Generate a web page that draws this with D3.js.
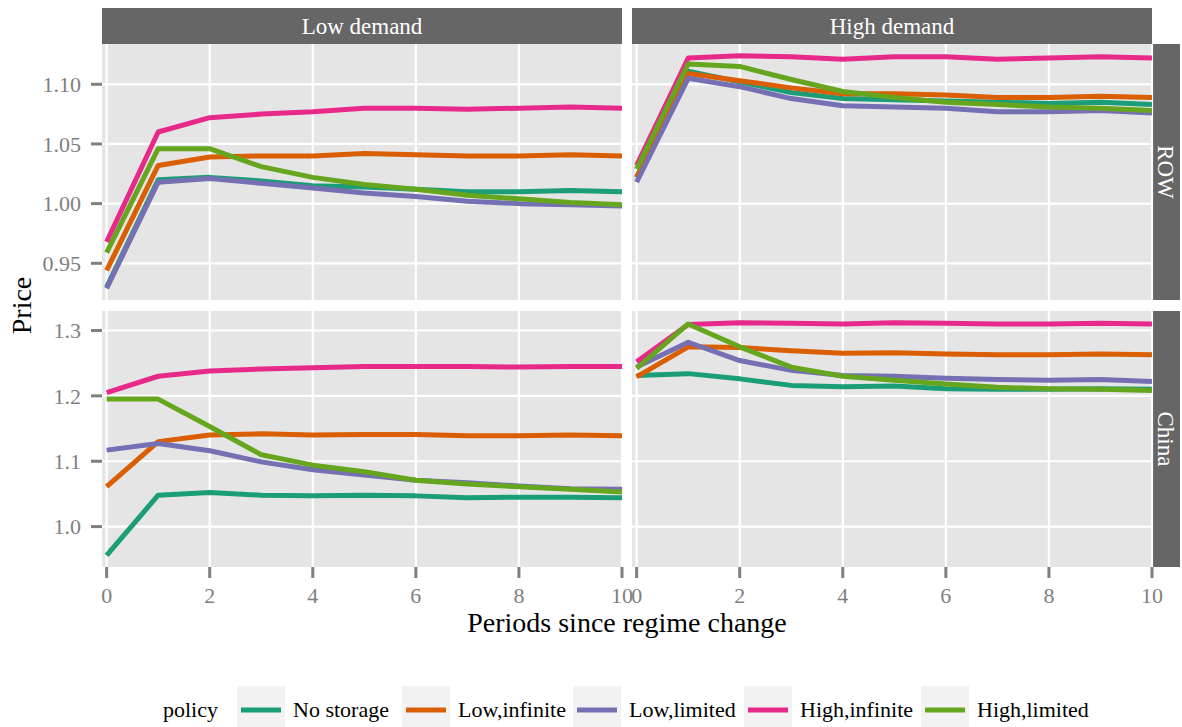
<!DOCTYPE html>
<html>
<head>
<meta charset="utf-8">
<title>Price by policy</title>
<script src="https://cdn.jsdelivr.net/npm/d3@7"></script>
<style>
  body { margin: 0; background: #fff; }
  svg { font-family: "Liberation Serif", "DejaVu Serif", serif; }
  .tick-label { fill: #7f7f7f; font-size: 22px; }
  .strip-text { fill: #fff; font-size: 23px; }
  .axis-title { fill: #000; font-size: 28px; }
  .legend-text { fill: #000; font-size: 22px; }
</style>
</head>
<body>
<script>
// data
var periods = [0, 1, 2, 3, 4, 5, 6, 7, 8, 9, 10];
var policies = ["No storage", "Low,infinite", "Low,limited", "High,infinite", "High,limited"];
var policyColors = ["#1b9e77", "#d95f02", "#7570b3", "#e7298a", "#66a61e"];
var demands = ["Low demand", "High demand"];
var regions = ["ROW", "China"];

// one array per policy, same order as policies
var rowLow = [
  [0.930, 1.020, 1.022, 1.019, 1.015, 1.014, 1.012, 1.010, 1.010, 1.011, 1.010],
  [0.944, 1.032, 1.039, 1.040, 1.040, 1.042, 1.041, 1.040, 1.040, 1.041, 1.040],
  [0.929, 1.018, 1.021, 1.017, 1.013, 1.009, 1.006, 1.002, 1.000, 0.999, 0.998],
  [0.968, 1.060, 1.072, 1.075, 1.077, 1.080, 1.080, 1.079, 1.080, 1.081, 1.080],
  [0.959, 1.046, 1.046, 1.031, 1.022, 1.016, 1.012, 1.007, 1.004, 1.001, 0.999]
];
var rowHigh = [
  [1.022, 1.111, 1.102, 1.093, 1.088, 1.087, 1.086, 1.085, 1.084, 1.085, 1.083],
  [1.022, 1.109, 1.103, 1.097, 1.092, 1.092, 1.091, 1.089, 1.089, 1.090, 1.089],
  [1.018, 1.105, 1.098, 1.088, 1.082, 1.081, 1.080, 1.077, 1.077, 1.078, 1.076],
  [1.032, 1.122, 1.124, 1.123, 1.121, 1.123, 1.123, 1.121, 1.122, 1.123, 1.122],
  [1.029, 1.117, 1.115, 1.104, 1.094, 1.089, 1.085, 1.083, 1.081, 1.080, 1.078]
];
var chinaLow = [
  [0.956, 1.048, 1.052, 1.048, 1.047, 1.048, 1.047, 1.044, 1.045, 1.045, 1.044],
  [1.061, 1.130, 1.140, 1.142, 1.140, 1.141, 1.141, 1.139, 1.139, 1.140, 1.139],
  [1.117, 1.127, 1.116, 1.099, 1.087, 1.079, 1.071, 1.067, 1.062, 1.058, 1.057],
  [1.205, 1.230, 1.238, 1.241, 1.243, 1.245, 1.245, 1.245, 1.244, 1.245, 1.245],
  [1.195, 1.195, 1.153, 1.110, 1.094, 1.084, 1.071, 1.065, 1.061, 1.057, 1.053]
];
var chinaHigh = [
  [1.231, 1.234, 1.226, 1.216, 1.214, 1.215, 1.211, 1.210, 1.210, 1.211, 1.210],
  [1.229, 1.275, 1.274, 1.269, 1.265, 1.266, 1.264, 1.263, 1.263, 1.264, 1.263],
  [1.244, 1.282, 1.254, 1.239, 1.231, 1.230, 1.227, 1.225, 1.224, 1.225, 1.222],
  [1.252, 1.309, 1.312, 1.311, 1.310, 1.312, 1.311, 1.310, 1.310, 1.311, 1.310],
  [1.242, 1.310, 1.275, 1.244, 1.230, 1.224, 1.218, 1.213, 1.211, 1.210, 1.208]
];
var panelData = [[rowLow, rowHigh], [chinaLow, chinaHigh]];

var xTicks = [0, 2, 4, 6, 8, 10];
var yTicks = [[0.95, 1.00, 1.05, 1.10], [1.0, 1.1, 1.2, 1.3]];
var yFormats = [d3.format(".2f"), d3.format(".1f")];

// layout
var W = 1182, H = 727;
var colX = [[102, 622], [632, 1152]];
var rowY = [[44, 300], [311, 567]];
var stripTop = 8, stripRight = 1180;
var stripFill = "#666666";
var lineW = 5;

var svg = d3.select("body").append("svg")
    .attr("width", W)
    .attr("height", H);

// y scales are free per row, 5% expansion like ggplot
var yScales = panelData.map(function(row, r) {
  var all = d3.merge(row.map(function(p) { return d3.merge(p); }));
  var ext = d3.extent(all);
  var pad = (ext[1] - ext[0]) * 0.05;
  return d3.scaleLinear().domain([ext[0] - pad, ext[1] + pad]).range([rowY[r][1], rowY[r][0]]);
});
var xScales = colX.map(function(c) {
  return d3.scaleLinear().domain([-0.09, 10]).range(c);
});

// top strips
demands.forEach(function(d, c) {
  svg.append("rect")
      .attr("x", colX[c][0]).attr("y", stripTop)
      .attr("width", colX[c][1] - colX[c][0]).attr("height", rowY[0][0] - stripTop)
      .attr("fill", stripFill);
  svg.append("text")
      .attr("class", "strip-text")
      .attr("x", (colX[c][0] + colX[c][1]) / 2)
      .attr("y", (stripTop + rowY[0][0]) / 2)
      .attr("dy", "0.35em")
      .attr("text-anchor", "middle")
      .text(d);
});

// right strips
regions.forEach(function(reg, r) {
  svg.append("rect")
      .attr("x", colX[1][1]).attr("y", rowY[r][0])
      .attr("width", stripRight - colX[1][1]).attr("height", rowY[r][1] - rowY[r][0])
      .attr("fill", stripFill);
  var cx = (colX[1][1] + stripRight) / 2, cy = (rowY[r][0] + rowY[r][1]) / 2;
  svg.append("text")
      .attr("class", "strip-text")
      .attr("transform", "translate(" + cx + "," + cy + ") rotate(90)")
      .attr("dy", "0.35em")
      .attr("text-anchor", "middle")
      .text(reg);
});

var line = d3.line();

panelData.forEach(function(row, r) {
  var y = yScales[r];
  row.forEach(function(series, c) {
    var x = xScales[c];
    var g = svg.append("g");

    g.append("rect")
        .attr("x", colX[c][0]).attr("y", rowY[r][0])
        .attr("width", colX[c][1] - colX[c][0]).attr("height", rowY[r][1] - rowY[r][0])
        .attr("fill", "#e5e5e5");

    // grid
    g.selectAll(".hgrid").data(yTicks[r]).enter().append("line")
        .attr("x1", colX[c][0]).attr("x2", colX[c][1])
        .attr("y1", function(d) { return y(d); }).attr("y2", function(d) { return y(d); })
        .attr("stroke", "#fff").attr("stroke-width", 2.2);
    g.selectAll(".vgrid").data(xTicks).enter().append("line")
        .attr("y1", rowY[r][0]).attr("y2", rowY[r][1])
        .attr("x1", function(d) { return x(d); }).attr("x2", function(d) { return x(d); })
        .attr("stroke", "#fff").attr("stroke-width", 2.2);

    // lines
    series.forEach(function(vals, i) {
      g.append("path")
          .attr("d", line(vals.map(function(v, k) { return [x(periods[k]), y(v)]; })))
          .attr("fill", "none")
          .attr("stroke", policyColors[i])
          .attr("stroke-width", lineW)
          .attr("stroke-linejoin", "round");
    });

    // y axis on the left column
    if (c === 0) {
      var ya = svg.append("g");
      yTicks[r].forEach(function(t) {
        ya.append("line")
            .attr("x1", colX[0][0] - 11).attr("x2", colX[0][0])
            .attr("y1", y(t)).attr("y2", y(t))
            .attr("stroke", "#7f7f7f").attr("stroke-width", 3);
        ya.append("text")
            .attr("class", "tick-label")
            .attr("x", colX[0][0] - 21).attr("y", y(t))
            .attr("dy", "0.35em")
            .attr("text-anchor", "end")
            .text(yFormats[r](t));
      });
    }
    // x axis on the bottom row
    if (r === 1) {
      var xa = svg.append("g");
      xTicks.forEach(function(t) {
        xa.append("line")
            .attr("x1", x(t)).attr("x2", x(t))
            .attr("y1", rowY[1][1]).attr("y2", rowY[1][1] + 11)
            .attr("stroke", "#7f7f7f").attr("stroke-width", 3);
        xa.append("text")
            .attr("class", "tick-label")
            .attr("x", x(t)).attr("y", rowY[1][1] + 36)
            .attr("text-anchor", "middle")
            .text(t);
      });
    }
  });
});

// axis titles
svg.append("text")
    .attr("class", "axis-title")
    .attr("x", (colX[0][0] + colX[1][1]) / 2)
    .attr("y", 632)
    .attr("text-anchor", "middle")
    .text("Periods since regime change");
svg.append("text")
    .attr("class", "axis-title")
    .attr("transform", "translate(31," + ((rowY[0][0] + rowY[1][1]) / 2) + ") rotate(-90)")
    .attr("text-anchor", "middle")
    .text("Price");

// legend
var legendKeyX = [237, 402, 573, 744, 921];
var legend = svg.append("g");
legend.append("text")
    .attr("class", "legend-text")
    .attr("x", 163).attr("y", 717)
    .text("policy");
policies.forEach(function(p, i) {
  var kx = legendKeyX[i];
  legend.append("rect")
      .attr("x", kx).attr("y", 686)
      .attr("width", 48).attr("height", 41)
      .attr("fill", "#f2f2f2");
  legend.append("line")
      .attr("x1", kx + 4).attr("x2", kx + 44)
      .attr("y1", 710).attr("y2", 710)
      .attr("stroke", policyColors[i]).attr("stroke-width", lineW);
  legend.append("text")
      .attr("class", "legend-text")
      .attr("x", kx + 56).attr("y", 717)
      .text(p);
});
</script>
</body>
</html>
